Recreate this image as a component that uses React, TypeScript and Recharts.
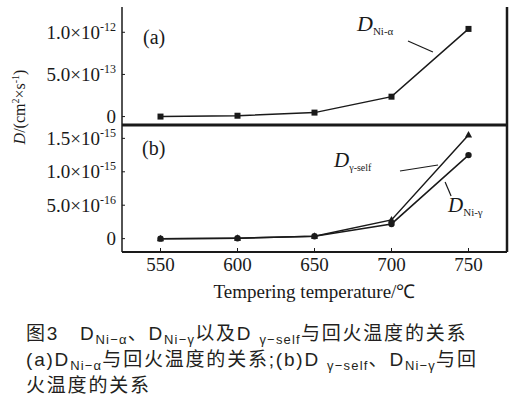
import React from "react";
import { LineChart, Line, XAxis, YAxis, ReferenceLine, ReferenceDot } from "recharts";

// tempering temperature (°C)
const temps = [550, 600, 650, 700, 750];
// diffusion coefficients, cm^2/s
const dNiAlpha = [0, 0.01e-12, 0.047e-12, 0.236e-12, 1.04e-12];
const dGammaSelf = [0, 0.005e-15, 0.035e-15, 0.28e-15, 1.55e-15];
const dNiGamma = [0, 0.005e-15, 0.035e-15, 0.22e-15, 1.25e-15];

const xTicks = [550, 600, 650, 700, 750];
const topTicks = [0, 5e-13, 1e-12];
const topTickLabels = [["0", ""], ["5.0×10", "-13"], ["1.0×10", "-12"]];
const bottomTicks = [0, 5e-16, 1e-15, 1.5e-15];
const bottomTickLabels = [["0", ""], ["5.0×10", "-16"], ["1.0×10", "-15"], ["1.5×10", "-15"]];

const topData = temps.map((t, i) => ({ t, a: dNiAlpha[i] }));
const bottomData = temps.map((t, i) => ({ t, self: dGammaSelf[i], ni: dNiGamma[i] }));

const SERIF = '"Liberation Serif", "Times New Roman", serif';
const INK = "#1a1a1a";

const sciTick = (ticks: number[], labels: string[][]) => (props: any) => {
  const { x, y, payload } = props;
  const i = ticks.indexOf(payload.value);
  const [m, e] = labels[i] || [String(payload.value), ""];
  return (
    <text x={x} y={y} dy="0.34em" textAnchor="end" fontFamily={SERIF} fontSize={19} fill={INK}>
      {m}
      {e && (
        <tspan dy={-8} fontSize={12}>
          {e}
        </tspan>
      )}
    </text>
  );
};

const Square = (props: any) => {
  const { cx, cy, index } = props;
  return <rect key={index} x={cx - 3} y={cy - 3} width={6} height={6} fill={INK} />;
};
const Circle = (props: any) => {
  const { cx, cy, index } = props;
  return <circle key={index} cx={cx} cy={cy} r={3.2} fill={INK} />;
};
const Triangle = (props: any) => {
  const { cx, cy, index } = props;
  return <path key={index} d={`M${cx},${cy - 4} L${cx + 3.6},${cy + 2.5} L${cx - 3.6},${cy + 2.5} Z`} fill={INK} />;
};

const DLabel = (sub: string, fs = 22, sfs = 11) => (props: any) => {
  const { x, y } = props.viewBox;
  return (
    <text x={x} y={y} fontFamily={SERIF} fill={INK}>
      <tspan fontStyle="italic" fontSize={fs}>D</tspan>
      <tspan fontSize={sfs} dy={4}>{sub}</tspan>
    </text>
  );
};

const subStyle: React.CSSProperties = { fontSize: 13, position: "relative", top: 4, lineHeight: 0, letterSpacing: 1.2 };

const App = () => {
  return (
    <div style={{ position: "absolute", left: 0, top: 0, width: 529, height: 399, background: "#fff" }}>
      {/* panel (a) */}
      <div style={{ position: "absolute", left: 0, top: 0 }}>
        <LineChart width={529} height={140} data={topData} margin={{ top: 7, right: 22, bottom: 14, left: 0 }}>
          <XAxis
            dataKey="t"
            type="number"
            domain={[525, 775]}
            ticks={xTicks}
            tick={false}
            height={1}
            tickSize={-4}
            stroke={INK}
            axisLine={{ strokeWidth: 3 }}
          />
          <YAxis
            domain={[-1e-13, 1.3e-12]}
            ticks={topTicks}
            width={122}
            tickSize={-3}
            tickMargin={9}
            tick={sciTick(topTicks, topTickLabels)}
            stroke={INK}
            axisLine={{ strokeWidth: 1.5 }}
            allowDataOverflow
          />
          <ReferenceLine x={775} stroke={INK} strokeWidth={2.5} />
          <ReferenceLine segment={[{ x: 710.7, y: 0.897e-12 }, { x: 726.9, y: 0.766e-12 }]} stroke={INK} strokeWidth={1.2} />
          <ReferenceDot x={677.6} y={1.015e-12} r={0} fill="none" stroke="none" label={{ content: DLabel("Ni-α") }} />
          <Line dataKey="a" stroke={INK} strokeWidth={1.5} dot={Square} isAnimationActive={false} />
        </LineChart>
      </div>

      {/* panel (b) */}
      <div style={{ position: "absolute", left: 0, top: 0 }}>
        <LineChart width={529} height={320} data={bottomData} margin={{ top: 124, right: 22, bottom: 18, left: 0 }}>
          <XAxis
            xAxisId="top"
            orientation="top"
            dataKey="t"
            type="number"
            domain={[525, 775]}
            ticks={xTicks}
            tick={false}
            height={1}
            tickSize={-4}
            stroke={INK}
            axisLine={false}
          />
          <XAxis
            dataKey="t"
            type="number"
            domain={[525, 775]}
            ticks={xTicks}
            height={50}
            tickSize={-4}
            tickMargin={10}
            stroke={INK}
            tick={{ fontFamily: SERIF, fontSize: 19, fill: INK }}
            axisLine={{ strokeWidth: 2 }}
            label={{
              value: "Tempering temperature/℃",
              position: "insideBottom",
              offset: 4,
              style: { fontFamily: SERIF, fontSize: 19, fill: INK },
            }}
          />
          <YAxis
            domain={[-2e-16, 1.7e-15]}
            ticks={bottomTicks}
            width={122}
            tickSize={-3}
            tickMargin={9}
            tick={sciTick(bottomTicks, bottomTickLabels)}
            stroke={INK}
            axisLine={{ strokeWidth: 1.5 }}
            allowDataOverflow
          />
          <ReferenceLine x={775} stroke={INK} strokeWidth={2.5} />
          <ReferenceLine segment={[{ x: 705.5, y: 1.012e-15 }, { x: 730.2, y: 1.102e-15 }]} stroke={INK} strokeWidth={1.2} />
          <ReferenceLine segment={[{ x: 734.8, y: 0.847e-15 }, { x: 738.7, y: 0.638e-15 }]} stroke={INK} strokeWidth={1.2} />
          <ReferenceDot x={662.7} y={1.072e-15} r={0} fill="none" stroke="none" label={{ content: DLabel("γ-self", 21, 10) }} />
          <ReferenceDot x={736.7} y={0.398e-15} r={0} fill="none" stroke="none" label={{ content: DLabel("Ni-γ", 21, 11) }} />
          <Line dataKey="self" stroke={INK} strokeWidth={1.5} dot={Triangle} isAnimationActive={false} />
          <Line dataKey="ni" stroke={INK} strokeWidth={1.5} dot={Circle} isAnimationActive={false} />
        </LineChart>
      </div>

      {/* panel tags and y title */}
      <svg width={529} height={320} style={{ position: "absolute", left: 0, top: 0, pointerEvents: "none" }}>
        <text x={143} y={44} fontFamily={SERIF} fontSize={20} fill={INK}>(a)</text>
        <text x={142} y={155} fontFamily={SERIF} fontSize={20} fill={INK}>(b)</text>
        <text transform="translate(25,107) rotate(-90)" textAnchor="middle" fontFamily={SERIF} fontSize={16} fill={INK}>
          <tspan fontStyle="italic">D</tspan>/(cm<tspan dy={-6} fontSize={10}>2</tspan>
          <tspan dy={6}>×s</tspan>
          <tspan dy={-6} fontSize={10}>-1</tspan>
          <tspan dy={6}>)</tspan>
        </text>
      </svg>

      {/* caption */}
      <div
        style={{
          position: "absolute",
          left: 26,
          top: 321,
          fontFamily: '"Liberation Sans", "Noto Sans CJK SC", sans-serif',
          fontSize: 19,
          lineHeight: "26px",
          letterSpacing: 1.8,
          color: "#231f20",
          whiteSpace: "nowrap",
        }}
      >
        <div>
          图3　D<span style={subStyle}>Ni−α</span>、D<span style={subStyle}>Ni−γ</span>以及D <span style={subStyle}>γ−self</span>与回火温度的关系
        </div>
        <div>
          (a)D<span style={subStyle}>Ni−α</span>与回火温度的关系;(b)D <span style={subStyle}>γ−self</span>、D<span style={subStyle}>Ni−γ</span>与回
        </div>
        <div>火温度的关系</div>
      </div>
    </div>
  );
};

export default App;
